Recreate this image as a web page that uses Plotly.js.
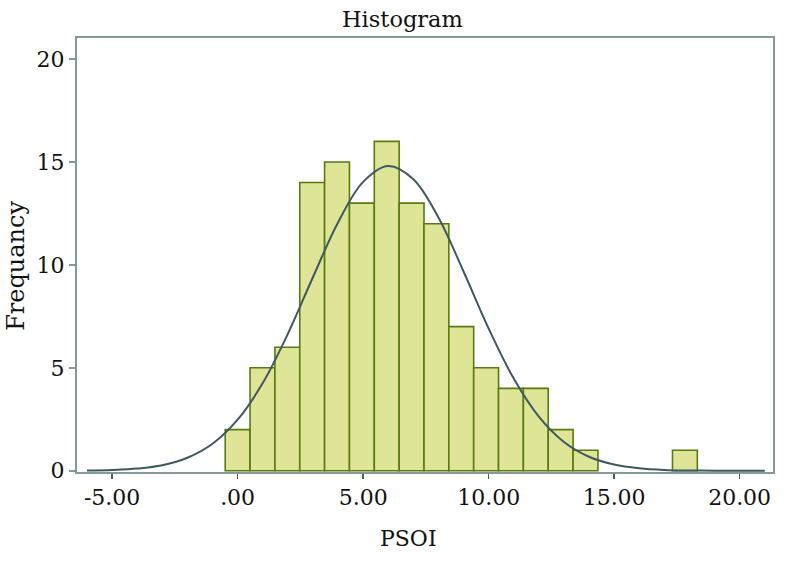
<!DOCTYPE html>
<html>
<head>
<meta charset="utf-8">
<script src="https://cdn.plot.ly/plotly-3.0.1.min.js"></script>
<style>html,body{margin:0;padding:0;background:#fff;}#chart{width:794px;height:563px;}</style>
</head>
<body>
<div id="chart"></div>
<script>
// Histogram bins (bin centres, PSOI units) and frequencies
const binCenters = [0, 0.99, 1.98, 2.97, 3.96, 4.95, 5.94, 6.93, 7.92, 8.91, 9.9, 10.89, 11.88, 12.87, 13.86, 17.82];
const frequencies = [2, 5, 6, 14, 15, 13, 16, 13, 12, 7, 5, 4, 4, 2, 1, 1];
const binWidth = 0.99;

// Normal curve
const curveX = [-6, -5, -4, -3, -2, -1, 0, 1, 2, 3, 4, 5, 6, 7, 8, 9, 10, 11, 12, 13, 14, 15, 16, 17, 18, 19, 20, 21];
const curveY = [0.01, 0.04, 0.11, 0.27, 0.63, 1.31, 2.48, 4.26, 6.65, 9.40, 12.06, 14.03, 14.8, 14.16, 12.3, 9.68, 6.91, 4.48, 2.63, 1.40, 0.68, 0.30, 0.12, 0.04, 0.014, 0.004, 0.001, 0.0];

const xTickVals = [-5, 0, 5, 10, 15, 20];
const xTickText = ['-5.00', '.00', '5.00', '10.00', '15.00', '20.00'];
const yTickVals = [0, 5, 10, 15, 20];

const fontFam = 'DejaVu Serif, serif';
const frameColor = '#86999a';

const traces = [
  {
    type: 'bar',
    x: binCenters,
    y: frequencies,
    width: binCenters.map(() => binWidth),
    marker: { color: '#dfe596', line: { color: '#587a12', width: 1.6 } },
    hoverinfo: 'x+y'
  },
  {
    type: 'scatter',
    mode: 'lines',
    x: curveX,
    y: curveY,
    line: { color: '#3e5862', width: 2, shape: 'spline', smoothing: 1 },
    hoverinfo: 'skip'
  }
];

const layout = {
  width: 794,
  height: 563,
  margin: { l: 77, r: 21, t: 38, b: 91 },
  paper_bgcolor: '#ffffff',
  plot_bgcolor: '#ffffff',
  showlegend: false,
  bargap: 0,
  font: { family: fontFam, color: '#111111', size: 22 },
  xaxis: {
    range: [-6.4, 21.33],
    tickvals: xTickVals,
    ticktext: xTickText,
    ticks: 'outside',
    ticklen: 5,
    tickwidth: 1.5,
    tickcolor: '#4a5a5a',
    showgrid: false,
    zeroline: false,
    showline: true,
    linecolor: frameColor,
    linewidth: 2,
    mirror: true,
    tickfont: { family: fontFam, size: 22, color: '#111' }
  },
  yaxis: {
    range: [-0.06, 21.02],
    tickvals: yTickVals,
    ticks: 'outside',
    ticklen: 6,
    tickwidth: 1.5,
    tickcolor: '#8a9a9a',
    showgrid: false,
    zeroline: false,
    showline: true,
    linecolor: frameColor,
    linewidth: 2,
    mirror: true,
    tickfont: { family: fontFam, size: 22, color: '#111' }
  },
  annotations: [
    { text: 'Histogram', xref: 'paper', yref: 'paper', x: 0.467, y: 1, yshift: 19, showarrow: false,
      xanchor: 'center', yanchor: 'middle', font: { family: fontFam, size: 22.5, color: '#111' } },
    { text: 'PSOI', xref: 'paper', yref: 'paper', x: 0.477, y: 0, yshift: -66, showarrow: false,
      xanchor: 'center', yanchor: 'middle', font: { family: fontFam, size: 22, color: '#111' } },
    { text: 'Frequancy', xref: 'paper', yref: 'paper', x: 0, xshift: -61, y: 0.475, showarrow: false,
      textangle: -90, xanchor: 'center', yanchor: 'middle', font: { family: fontFam, size: 24, color: '#111' } }
  ]
};

Plotly.newPlot('chart', traces, layout, { displayModeBar: false, staticPlot: true });
</script>
</body>
</html>
